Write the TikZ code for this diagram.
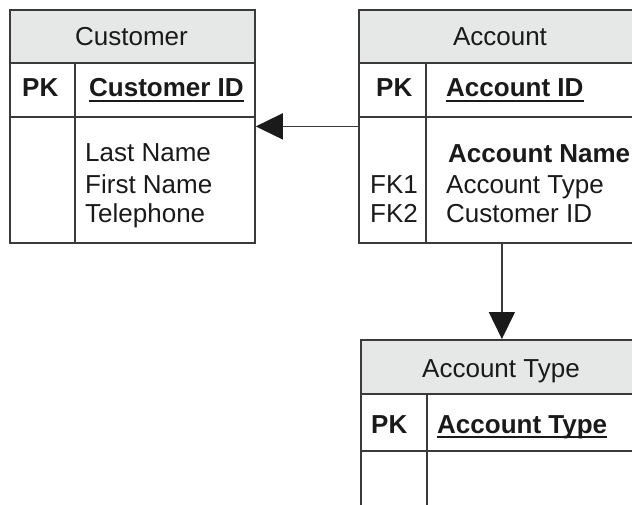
\documentclass[tikz,border=0pt]{standalone}
\usepackage{fontspec}
\setmainfont{Liberation Sans}
\usetikzlibrary{arrows.meta}
\definecolor{ink}{HTML}{1A1A1A}
\definecolor{rule}{HTML}{3A3A3A}
\definecolor{headfill}{HTML}{E6E7E7}
\begin{document}
\begin{tikzpicture}[x=1pt, y=-1pt, font=\fontsize{26}{31}\selectfont]
\tikzset{
  frame/.style={draw=rule, line width=1.8pt, inner sep=0pt, rectangle, anchor=north west},
  head/.style={frame, fill=headfill},
  grid/.style={draw=rule, line width=1.8pt},
  title/.style={anchor=base, inner sep=0pt, text=ink},
  cell/.style={anchor=base west, inner sep=0pt, text=ink},
  key/.style={cell, font=\fontsize{26}{31}\selectfont\bfseries},
  uline/.style={draw=ink, line width=1.6pt},
  fk/.style={draw=rule, line width=1.6pt,
    -{Triangle[length=27pt, width=26pt, color=ink]}},
}
\clip (0,0) rectangle (632,505);

% ---- Customer table ----
\node[frame, minimum width=245pt, minimum height=233pt] (cust) at (9,9) {};
\node[head, minimum width=245pt, minimum height=53pt] (custhd) at (9,9) {};
\draw[grid] (9,117) -- (254,117);
\draw[grid] (75,62) -- (75,242);
\node[title] (custtitle) at (131.5,45.7) {Customer};
\node[key] (custpk) at (22,97) {PK};
\node[key] (custid) at (89,97) {Customer ID};
\draw[uline] ([yshift=-4pt]custid.base west) -- ([yshift=-4pt]custid.base east);
\node[cell] (custlast) at (85,162) {Last Name};
\node[cell] (custfirst) at (85,194) {First Name};
\node[cell] (custtel) at (85,223) {Telephone};

% ---- Account table ----
\node[frame, minimum width=284pt, minimum height=233pt] (acct) at (358,9) {};
\node[head, minimum width=284pt, minimum height=53pt] (accthd) at (358,9) {};
\draw[grid] (358,117) -- (642,117);
\draw[grid] (426,62) -- (426,242);
\node[title] (accttitle) at (500,45.7) {Account};
\node[key] (acctpk) at (376,97) {PK};
\node[key] (acctid) at (446,97) {Account ID};
\draw[uline] ([yshift=-4pt]acctid.base west) -- ([yshift=-4pt]acctid.base east);
\node[key] (acctname) at (448,163) {Account Name};
\node[cell] (acctfka) at (370,194) {FK1};
\node[cell] (acctfkb) at (370,223) {FK2};
\node[cell] (accttype) at (446,194) {Account Type};
\node[cell] (acctcust) at (446,223) {Customer ID};

% ---- Account Type table ----
\node[frame, minimum width=282pt, minimum height=190pt] (atype) at (360,339) {};
\node[head, minimum width=282pt, minimum height=54pt] (atypehd) at (360,339) {};
\draw[grid] (360,451) -- (642,451);
\draw[grid] (427,393) -- (427,529);
\node[title] (atypetitle) at (501,377) {Account Type};
\node[key] (atypepk) at (371,433) {PK};
\node[key] (atypeid) at (437,433) {Account Type};
\draw[uline] ([yshift=-4pt]atypeid.base west) -- ([yshift=-4pt]atypeid.base east);

% ---- foreign key references ----
\draw[fk] (acct.west) -- (cust.east);
\draw[fk] (acct.south -| atype.north) -- (atype.north);
\end{tikzpicture}
\end{document}
